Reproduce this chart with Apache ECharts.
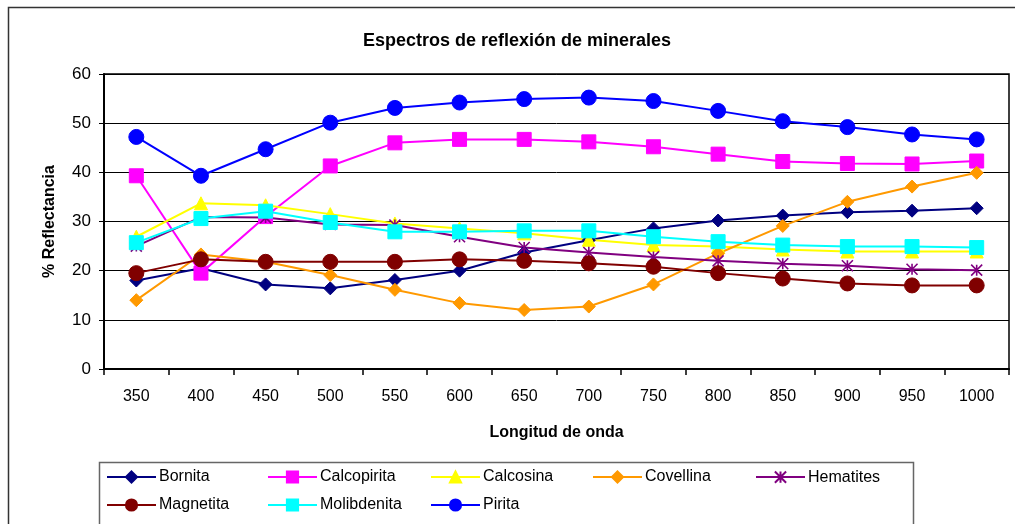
<!DOCTYPE html>
<html>
<head>
<meta charset="utf-8">
<script src="https://cdn.jsdelivr.net/npm/echarts@6/dist/echarts.min.js"></script>
<style>
  html, body { margin: 0; padding: 0; background: #fff; }
  #chart { width: 1015px; height: 524px; }
</style>
</head>
<body>
<div id="chart"></div>
<script>
// longitudes de onda (eje X)
const wavelengths = ['350', '400', '450', '500', '550', '600', '650', '700', '750', '800', '850', '900', '950', '1000']

// % reflectancia por mineral
const bornita     = [18.0, 20.5, 17.2, 16.4, 18.1, 20.0, 23.7, 26.2, 28.6, 30.2, 31.2, 31.9, 32.2, 32.7]
const calcopirita = [39.3, 19.5, 31.0, 41.3, 46.0, 46.7, 46.7, 46.2, 45.2, 43.7, 42.2, 41.8, 41.7, 42.3]
const calcosina   = [26.9, 33.7, 33.3, 31.5, 29.6, 28.6, 27.6, 26.3, 25.2, 24.9, 24.3, 23.9, 23.9, 23.9]
const covellina   = [14.0, 23.3, 21.8, 19.1, 16.1, 13.4, 12.0, 12.7, 17.2, 23.5, 29.1, 34.0, 37.1, 39.9]
const hematites   = [25.0, 30.9, 30.8, 29.4, 29.3, 26.9, 24.7, 23.7, 22.8, 22.0, 21.4, 21.0, 20.3, 20.1]
const magnetita   = [19.5, 22.3, 21.8, 21.8, 21.8, 22.3, 22.0, 21.5, 20.8, 19.5, 18.4, 17.4, 17.0, 17.0]
const molibdenita = [25.7, 30.6, 32.1, 29.8, 27.9, 27.9, 28.1, 28.1, 26.9, 25.9, 25.2, 24.9, 24.9, 24.7]
const pirita      = [47.2, 39.3, 44.7, 50.1, 53.1, 54.2, 54.9, 55.2, 54.5, 52.5, 50.4, 49.2, 47.7, 46.7]

const FONT = "'Liberation Sans', Arial, sans-serif"
const asterisk = 'path://M0,0 L10,10 M10,0 L0,10 M5,0 L5,10'

function makeSeries(name, data, color, symbol, size, extra) {
  return Object.assign({
    name: name,
    type: 'line',
    data: data,
    color: color,
    symbol: symbol,
    symbolSize: size,
    showAllSymbol: true,
    lineStyle: { color: color, width: 2 },
    itemStyle: { color: color, borderColor: color, borderWidth: 1 },
    emphasis: { disabled: true },
    animation: false
  }, extra || {})
}

const series = [
  makeSeries('Bornita', bornita, '#000080', 'diamond', 13),
  makeSeries('Calcopirita', calcopirita, '#FF00FF', 'rect', 14),
  makeSeries('Calcosina', calcosina, '#FFFF00', 'triangle', 13),
  makeSeries('Covellina', covellina, '#FF9900', 'diamond', 13),
  makeSeries('Hematites', hematites, '#800080', asterisk, 11, {
    itemStyle: { color: 'none', borderColor: '#800080', borderWidth: 1.6 }
  }),
  makeSeries('Magnetita', magnetita, '#800000', 'circle', 15),
  makeSeries('Molibdenita', molibdenita, '#00FFFF', 'rect', 14),
  makeSeries('Pirita', pirita, '#0000FF', 'circle', 15)
]

// leyenda: 5 columnas x 2 filas
const legendCols = [106, 267, 430, 592, 755]
const legendRows = [469, 497]
const legends = series.map((s, i) => ({
  orient: 'horizontal',
  left: legendCols[i % 5],
  top: legendRows[Math.floor(i / 5)],
  padding: 0,
  itemGap: 0,
  itemWidth: 49,
  itemHeight: 14,
  selectedMode: false,
  data: [s.name],
  textStyle: { fontFamily: FONT, fontSize: 16, color: '#000', padding: [0, 0, 0, -2] }
}))

const chart = echarts.init(document.getElementById('chart'))

chart.setOption({
  backgroundColor: '#fff',
  animation: false,
  title: {
    text: 'Espectros de reflexión de minerales',
    left: 512,
    textAlign: 'center',
    top: 27,
    textStyle: { fontFamily: FONT, fontSize: 18, fontWeight: 'bold', color: '#000' }
  },
  graphic: [
    {
      type: 'rect',
      shape: { x: 8.5, y: 7.5, width: 1100, height: 600 },
      style: { fill: 'none', stroke: '#333', lineWidth: 1.5 },
      silent: true
    },
    {
      type: 'rect',
      shape: { x: 99.5, y: 462.5, width: 814, height: 100 },
      style: { fill: 'none', stroke: '#666', lineWidth: 1.5 },
      silent: true
    }
  ],
  legend: legends,
  grid: {
    left: 104,
    right: 6,
    top: 74,
    bottom: 155,
    show: true,
    borderColor: '#000',
    borderWidth: 1.5,
    containLabel: false
  },
  xAxis: {
    type: 'category',
    data: wavelengths,
    boundaryGap: true,
    name: 'Longitud de onda',
    nameLocation: 'middle',
    nameGap: 56,
    nameTextStyle: { fontFamily: FONT, fontSize: 16, fontWeight: 'bold', color: '#000' },
    axisLine: { lineStyle: { color: '#000', width: 2 } },
    axisTick: { show: true, alignWithLabel: false, length: 6, lineStyle: { color: '#000', width: 1.5 } },
    axisLabel: { fontFamily: FONT, fontSize: 16, color: '#000', margin: 20, interval: 0 },
    splitLine: { show: false }
  },
  yAxis: {
    type: 'value',
    min: 0,
    max: 60,
    interval: 10,
    name: '% Reflectancia',
    nameLocation: 'middle',
    nameRotate: 90,
    nameGap: 46,
    nameTextStyle: { fontFamily: FONT, fontSize: 16, fontWeight: 'bold', color: '#000' },
    axisLine: { show: true, lineStyle: { color: '#000', width: 2 } },
    axisTick: { show: true, inside: false, length: 5, lineStyle: { color: '#000', width: 1 } },
    axisLabel: { fontFamily: FONT, fontSize: 17, color: '#000', margin: 13 },
    splitLine: { show: true, lineStyle: { color: '#000', width: 1 } }
  },
  series: series
})
</script>
</body>
</html>
